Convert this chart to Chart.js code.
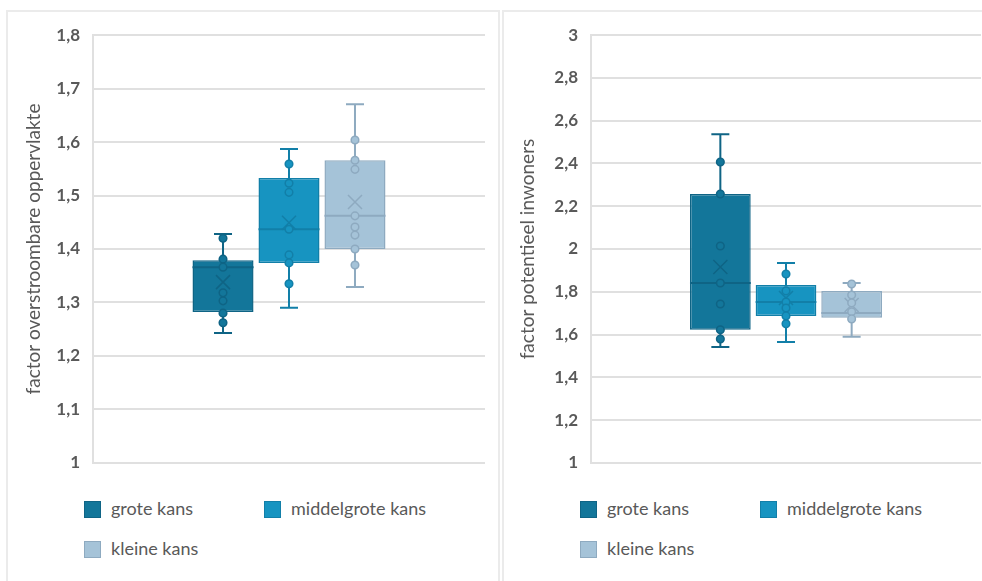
<!DOCTYPE html>
<html>
<head>
<meta charset="utf-8">
<script src="https://cdn.jsdelivr.net/npm/chart.js@4.4.1/dist/chart.umd.min.js"></script>
<style>
    body { margin: 0; background: #fff; width: 982px; height: 581px; overflow: hidden; position: relative; font-family: Lato, sans-serif; }
    .panel { position: absolute; top: 10px; height: 580px; border: 2px solid #ebebeb; box-sizing: border-box; }
    .panel canvas { position: absolute; left: 0; top: 0; }
    .legend-item { position: absolute; height: 17px; color: #595959; font-size: 18px; line-height: 17px; white-space: nowrap; }
    .legend-item span.box { position: absolute; left: 0; top: 0; width: 17px; height: 17px; box-sizing: border-box; border: 1.5px solid; }
    .legend-item span.txt { position: absolute; left: 27px; top: -1px; }
</style>
</head>
<body>
<div class="panel" id="panelLeft" style="left:6px; width:494px;">
    <canvas id="floodChart"></canvas>
    <div id="floodLegend"></div>
</div>
<div class="panel" id="panelRight" style="left:502px; width:490px;">
    <canvas id="popChart"></canvas>
    <div id="popLegend"></div>
</div>
<script>
// Reeksen
const seriesNames = ['grote kans', 'middelgrote kans', 'kleine kans'];
const fillColors = ['#13769a', '#1794c1', '#a5c3d8'];
const lineColors = ['#0f6485', '#127fa8', '#8eaac0'];

// Linker grafiek: factor overstroombare oppervlakte
const floodMin = [1.243, 1.290, 1.329];
const floodQ1 = [1.282, 1.374, 1.400];
const floodMedian = [1.366, 1.437, 1.462];
const floodQ3 = [1.379, 1.533, 1.566];
const floodMax = [1.428, 1.587, 1.671];
const floodMean = [1.338, 1.449, 1.488];
const floodPoints = [
    [1.420, 1.381, 1.366, 1.318, 1.303, 1.280, 1.262],
    [1.559, 1.523, 1.506, 1.437, 1.389, 1.374, 1.335],
    [1.604, 1.566, 1.549, 1.462, 1.441, 1.426, 1.400, 1.370]
];
const floodTicks = [1, 1.1, 1.2, 1.3, 1.4, 1.5, 1.6, 1.7, 1.8];

// Rechter grafiek: factor potentieel inwoners
const popMin = [1.542, 1.565, 1.589];
const popQ1 = [1.622, 1.687, 1.678];
const popMedian = [1.841, 1.752, 1.701];
const popQ3 = [2.257, 1.832, 1.804];
const popMax = [2.537, 1.935, 1.841];
const popMean = [1.916, 1.771, 1.738];
const popPoints = [
    [2.407, 2.257, 2.014, 1.841, 1.743, 1.622, 1.579],
    [1.883, 1.804, 1.752, 1.724, 1.687, 1.650],
    [1.836, 1.785, 1.748, 1.706, 1.673]
];
const popTicks = [1, 1.2, 1.4, 1.6, 1.8, 2, 2.2, 2.4, 2.6, 2.8, 3];

const textColor = '#595959';
const gridColor = '#e0e0e0';

// Snorharen, mediaan, gemiddelde en punten tekenen
function boxExtras(stats) {
    return {
        id: 'boxExtras',
        afterDatasetsDraw(chart) {
            const ctx = chart.ctx;
            const y = chart.scales.y;
            ctx.save();
            chart.data.datasets.forEach((ds, i) => {
                const bar = chart.getDatasetMeta(i).data[0];
                const x = bar.x;
                const half = bar.width / 2;
                ctx.strokeStyle = lineColors[i];
                ctx.lineWidth = 2;

                // snorharen
                const yMin = y.getPixelForValue(stats.min[i]);
                const yMax = y.getPixelForValue(stats.max[i]);
                const yQ1 = y.getPixelForValue(stats.q1[i]);
                const yQ3 = y.getPixelForValue(stats.q3[i]);
                ctx.beginPath();
                ctx.moveTo(x, yQ3); ctx.lineTo(x, yMax);
                ctx.moveTo(x - 9, yMax); ctx.lineTo(x + 9, yMax);
                ctx.moveTo(x, yQ1); ctx.lineTo(x, yMin);
                ctx.moveTo(x - 9, yMin); ctx.lineTo(x + 9, yMin);
                ctx.stroke();

                // mediaan
                const yMed = y.getPixelForValue(stats.median[i]);
                ctx.beginPath();
                ctx.moveTo(x - half, yMed); ctx.lineTo(x + half, yMed);
                ctx.stroke();

                // gemiddelde (kruisje)
                const yMean = y.getPixelForValue(stats.mean[i]);
                ctx.lineWidth = 1.5;
                ctx.beginPath();
                ctx.moveTo(x - 7, yMean - 7); ctx.lineTo(x + 7, yMean + 7);
                ctx.moveTo(x + 7, yMean - 7); ctx.lineTo(x - 7, yMean + 7);
                ctx.stroke();

                // binnenpunten
                ctx.fillStyle = fillColors[i];
                stats.points[i].forEach(v => {
                    ctx.beginPath();
                    ctx.arc(x, y.getPixelForValue(v), 3.8, 0, Math.PI * 2);
                    ctx.fill();
                    ctx.stroke();
                });
            });
            ctx.restore();
        }
    };
}

function createBoxChart(canvasId, cfg) {
    const canvas = document.getElementById(canvasId);
    canvas.width = cfg.width;
    canvas.height = cfg.height;
    canvas.style.width = cfg.width + 'px';
    canvas.style.height = cfg.height + 'px';

    return new Chart(canvas.getContext('2d'), {
        type: 'bar',
        data: {
            labels: [''],
            datasets: seriesNames.map((name, i) => ({
                label: name,
                data: [[cfg.stats.q1[i], cfg.stats.q3[i]]],
                backgroundColor: fillColors[i],
                borderColor: lineColors[i],
                borderWidth: 1.5,
                borderSkipped: false,
                categoryPercentage: 0.505,
                barPercentage: 0.925
            }))
        },
        options: {
            responsive: false,
            animation: false,
            layout: {
                padding: { left: 12, right: cfg.padRight, top: 23, bottom: 15 }
            },
            plugins: {
                legend: { display: false },
                tooltip: { enabled: false }
            },
            scales: {
                x: { display: false },
                y: {
                    min: cfg.ticks[0],
                    max: cfg.ticks[cfg.ticks.length - 1],
                    afterBuildTicks: scale => {
                        scale.ticks = cfg.ticks.map(v => ({ value: v }));
                    },
                    afterFit: scale => { scale.width = cfg.axisWidth; },
                    grid: { color: gridColor, lineWidth: 2, drawTicks: false },
                    border: { display: true, color: gridColor, width: 2 },
                    ticks: {
                        padding: 13,
                        color: textColor,
                        font: { family: 'Lato', size: 17, weight: 'bold' },
                        callback: v => String(v).replace('.', ',')
                    },
                    title: {
                        display: true,
                        text: cfg.title,
                        color: textColor,
                        font: { family: 'Lato', size: 19 },
                        padding: { top: cfg.titlePad, bottom: 0 }
                    }
                }
            }
        },
        plugins: [boxExtras(cfg.stats)]
    });
}

function buildLegend(id) {
    const el = document.getElementById(id);
    seriesNames.forEach((name, i) => {
        const item = document.createElement('div');
        item.className = 'legend-item';
        item.style.left = (76 + (i % 2) * 180) + 'px';
        item.style.top = (489 + Math.floor(i / 2) * 40) + 'px';
        item.innerHTML = '<span class="box" style="background:' + fillColors[i] +
            ';border-color:' + lineColors[i] + '"></span><span class="txt">' + name + '</span>';
        el.appendChild(item);
    });
}

createBoxChart('floodChart', {
    width: 490, height: 474, padRight: 13, axisWidth: 73, titlePad: 2,
    title: 'factor overstroombare oppervlakte',
    ticks: floodTicks,
    stats: { min: floodMin, q1: floodQ1, median: floodMedian, q3: floodQ3, max: floodMax, mean: floodMean, points: floodPoints }
});

createBoxChart('popChart', {
    width: 486, height: 474, padRight: 9, axisWidth: 75, titlePad: 0,
    title: 'factor potentieel inwoners',
    ticks: popTicks,
    stats: { min: popMin, q1: popQ1, median: popMedian, q3: popQ3, max: popMax, mean: popMean, points: popPoints }
});

buildLegend('floodLegend');
buildLegend('popLegend');
</script>
</body>
</html>
